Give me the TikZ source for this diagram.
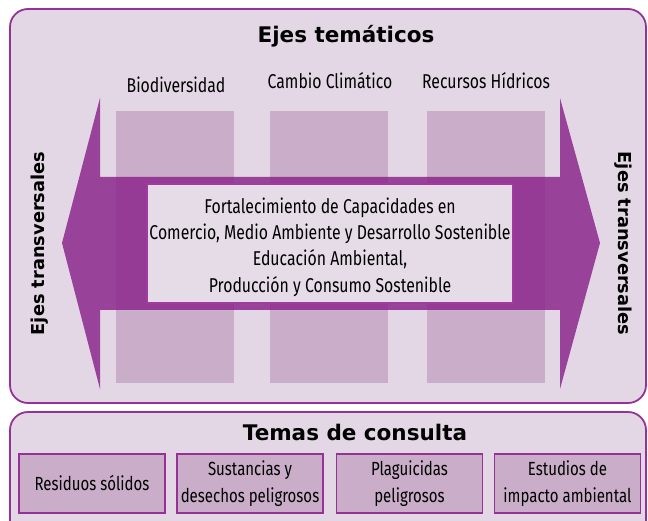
\documentclass[tikz,border=0pt]{standalone}
\usepackage{fontspec}
\setmainfont{Fira Sans}
\newfontfamily\bodyf[FakeStretch=0.79]{Fira Sans}
\newfontfamily\headf{DejaVu Sans}
\definecolor{lav}{RGB}{227,215,230}
\definecolor{pborder}{RGB}{150,50,150}
\definecolor{colfill}{RGB}{201,173,201}
\definecolor{bandc}{RGB}{140,40,140}
\definecolor{cborder}{RGB}{160,60,160}
\definecolor{cfill}{RGB}{230,220,232}
\begin{document}
\begin{tikzpicture}[x=1pt,y=-1pt,
  panel/.style={draw=pborder, line width=1.8pt, fill=lav, rounded corners=18pt},
  column/.style={fill=colfill},
  band/.style={fill=bandc, fill opacity=0.85},
  centerbox/.style={draw=cborder, line width=2pt, fill=cfill},
  topic/.style={draw=pborder, line width=1.5pt, fill=colfill, minimum width=146pt, minimum height=59pt, inner sep=0pt, align=center, font=\bodyf\fontsize{19}{26.5}\selectfont},
  body/.style={font=\bodyf\fontsize{20}{26.3}\selectfont},
  head/.style={font=\headf\bfseries\fontsize{21.5}{25}\selectfont},
  side/.style={font=\headf\bfseries\fontsize{17.8}{20}\selectfont},
]
\useasboundingbox (0,0) rectangle (648,521);
\clip (0,0) rectangle (648,521);
% panels
\draw[panel] (10,9) rectangle (646,403);
\draw[panel] (10,412) rectangle (646,540);
% columns
\fill[column] (116,111) rectangle (234,383);
\fill[column] (270,111) rectangle (388,383);
\fill[column] (427,111) rectangle (545,383);
% double arrow band
\fill[band] (100,98) -- (62,243) -- (100,389) -- (100,310) -- (560,310) -- (560,389)
  -- (600,243) -- (560,98) -- (560,177) -- (100,177) -- cycle;
% center box
\draw[centerbox] (147,184) rectangle (513,303);
\node[body, align=center] (center) at (330,247) {Fortalecimiento de Capacidades en\\Comercio, Medio Ambiente y Desarrollo Sostenible\\Educación Ambiental,\\Producción y Consumo Sostenible};
% titles
\node[head, anchor=base] (title1) at (346,43) {Ejes temáticos};
\node[head, anchor=base] (title2) at (355,440) {Temas de consulta};
% column labels
\node[body, anchor=base] (bio) at (176,93) {Biodiversidad};
\node[body, anchor=base] (cc) at (330,89) {Cambio Climático};
\node[body, anchor=base] (rh) at (486,89) {Recursos Hídricos};
% side labels
\node[side, rotate=90] (sideL) at (40,243.5) {Ejes transversales};
\node[side, rotate=-90] (sideR) at (623,243.5) {Ejes transversales};
% topics
\node[topic] (t1) at (92,483.5) {Residuos sólidos};
\node[topic] (t2) at (250,483.5) {Sustancias y\\desechos peligrosos};
\node[topic] (t3) at (409.5,483.5) {Plaguicidas\\peligrosos};
\node[topic] (t4) at (567.5,483.5) {Estudios de\\impacto ambiental};
\end{tikzpicture}
\end{document}
